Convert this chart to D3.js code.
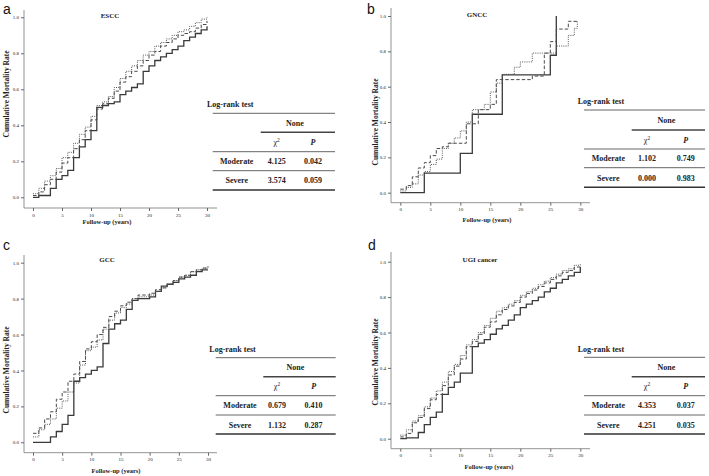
<!DOCTYPE html>
<html>
<head>
<meta charset="utf-8">
<script src="https://cdn.jsdelivr.net/npm/d3@7"></script>
<style>
	body { margin: 0; background: #fff; }
	svg { display: block; }
	text { font-family: "Liberation Serif", "Times New Roman", serif; fill: #222; }
	.letter { font-family: "Liberation Sans", Arial, sans-serif; font-size: 14px; fill: #111; }
	.tick text { font-size: 5px; }
	.tick line { stroke: #666; }
</style>
</head>
<body>
<svg id="chart" width="709" height="476"></svg>
<script>
/* global d3 */

// ---- data ----
const letters = ['a', 'b', 'c', 'd'];
const titles = ['ESCC', 'GNCC', 'GCC', 'UGI cancer'];
const xTicks = [0, 5, 10, 15, 20, 25, 30];
const yTicks = [0, 0.2, 0.4, 0.6, 0.8, 1.0];
const groups = ['None', 'Moderate', 'Severe'];
const rowNames = ['Moderate', 'Severe'];

// [follow-up year, cumulative mortality rate]
const escc_none = [[0,0],[1,0.01],[3,0.05],[4,0.10],[5,0.12],[6,0.15],[7,0.22],[8,0.28],[9,0.32],[10,0.37],[11,0.50],[12,0.51],[13,0.52],[14,0.53],[15,0.57],[16,0.59],[17,0.61],[18,0.63],[19,0.70],[20,0.73],[21,0.76],[22,0.78],[23,0.80],[24,0.82],[25,0.84],[26,0.87],[27,0.89],[28,0.91],[29,0.93],[30,0.95]];
const escc_moderate = [[0,0.01],[1,0.03],[2,0.07],[3,0.10],[4,0.14],[5,0.19],[6,0.22],[7,0.27],[8,0.32],[9,0.37],[10,0.43],[11,0.49],[12,0.52],[13,0.55],[14,0.59],[15,0.64],[16,0.67],[17,0.70],[18,0.73],[19,0.76],[20,0.79],[21,0.81],[22,0.84],[23,0.86],[24,0.88],[25,0.90],[26,0.91],[27,0.92],[28,0.94],[29,0.96],[30,0.98]];
const escc_severe = [[0,0.02],[1,0.05],[2,0.09],[3,0.12],[4,0.16],[5,0.22],[6,0.25],[7,0.30],[8,0.35],[9,0.39],[10,0.45],[11,0.51],[12,0.53],[13,0.56],[14,0.61],[15,0.66],[16,0.70],[17,0.73],[18,0.76],[19,0.79],[20,0.81],[21,0.84],[22,0.86],[23,0.88],[24,0.90],[25,0.92],[26,0.93],[27,0.95],[28,0.97],[29,0.99],[30,1.0]];

const gncc_none = [[0,0],[4,0.111],[10,0.222],[12,0.444],[17,0.667],[25,0.778],[26,1.0]];
const gncc_moderate = [[0,0.02],[1,0.04],[2,0.09],[3,0.14],[4,0.17],[5,0.21],[6,0.25],[7,0.26],[8,0.28],[11,0.39],[13,0.47],[15,0.50],[16,0.64],[22,0.66],[24,0.79],[25,0.855],[26,0.926],[28,0.97],[29.5,0.97]];
const gncc_severe = [[0,0.01],[1,0.03],[2,0.05],[3,0.10],[4,0.12],[5,0.16],[6,0.19],[7,0.25],[8,0.28],[9,0.31],[10,0.35],[11,0.40],[12,0.47],[14,0.50],[15,0.57],[16,0.62],[17,0.67],[19,0.71],[20,0.74],[22,0.79],[26,0.83],[28,0.89],[29,0.93],[29.5,0.97]];

const gcc_none = [[0,0],[3,0.03],[4,0.06],[5,0.10],[6,0.15],[7,0.34],[8,0.36],[9,0.38],[10,0.40],[11,0.42],[12,0.55],[13,0.63],[14,0.66],[15,0.68],[16,0.74],[17,0.79],[18,0.80],[20,0.81],[21,0.84],[22,0.87],[23,0.88],[24,0.89],[25,0.91],[26,0.92],[27,0.93],[28,0.95],[29,0.96],[30,0.96]];
const gcc_moderate = [[0,0.05],[1,0.08],[2,0.13],[3,0.17],[4,0.24],[5,0.28],[6,0.34],[7,0.38],[8,0.45],[9,0.52],[10,0.56],[11,0.60],[12,0.64],[13,0.70],[14,0.73],[15,0.76],[16,0.78],[17,0.80],[18,0.82],[20,0.83],[21,0.85],[22,0.86],[23,0.88],[24,0.90],[25,0.92],[26,0.93],[27,0.95],[28,0.96],[29,0.97],[30,0.98]];
const gcc_severe = [[0,0.03],[1,0.07],[2,0.10],[3,0.13],[4,0.19],[5,0.23],[6,0.28],[7,0.33],[8,0.43],[9,0.51],[10,0.53],[11,0.57],[12,0.63],[13,0.68],[14,0.72],[15,0.75],[16,0.77],[17,0.80],[18,0.81],[20,0.82],[21,0.84],[22,0.86],[23,0.88],[24,0.90],[25,0.92],[26,0.93],[27,0.95],[28,0.96],[29,0.97],[30,0.98]];

const ugi_none = [[0,0],[1,0.005],[3,0.035],[4,0.08],[5,0.12],[6,0.15],[7,0.25],[8,0.29],[9,0.32],[10,0.37],[12,0.52],[13,0.54],[14,0.56],[15,0.59],[16,0.62],[17,0.64],[18,0.67],[19,0.70],[20,0.74],[21,0.76],[22,0.78],[23,0.80],[24,0.83],[25,0.85],[26,0.88],[27,0.90],[28,0.92],[29,0.94],[30,0.97]];
const ugi_moderate = [[0,0.01],[1,0.03],[2,0.09],[3,0.12],[4,0.17],[5,0.22],[6,0.25],[7,0.30],[8,0.36],[9,0.41],[10,0.45],[11,0.52],[12,0.55],[13,0.59],[14,0.63],[15,0.66],[16,0.70],[17,0.73],[18,0.75],[19,0.77],[20,0.80],[21,0.82],[22,0.84],[23,0.86],[24,0.88],[25,0.90],[26,0.92],[27,0.94],[28,0.95],[29,0.97],[30,0.98]];
const ugi_severe = [[0,0.02],[1,0.05],[2,0.10],[3,0.13],[4,0.18],[5,0.23],[6,0.27],[7,0.32],[8,0.38],[9,0.42],[10,0.47],[11,0.53],[12,0.56],[13,0.60],[14,0.64],[15,0.68],[16,0.72],[17,0.74],[18,0.76],[19,0.78],[20,0.81],[21,0.83],[22,0.85],[23,0.87],[24,0.89],[25,0.91],[26,0.93],[27,0.95],[28,0.96],[29,0.98],[30,0.99]];

const chi2 = [['4.125', '3.574'], ['1.102', '0.000'], ['0.679', '1.132'], ['4.353', '4.251']];
const pval = [['0.042', '0.059'], ['0.749', '0.983'], ['0.410', '0.287'], ['0.037', '0.035']];

const series = [
	[escc_none, escc_moderate, escc_severe],
	[gncc_none, gncc_moderate, gncc_severe],
	[gcc_none, gcc_moderate, gcc_severe],
	[ugi_none, ugi_moderate, ugi_severe],
];

// ---- layout ----
const layout = [
	{ letter: [3, 14], title: [110, 18], x: [33, 207], y: [197.3, 17.3], ax: { l: 24, b: 208, t: 10, r: 217 },
		ylab: [9, 94], xlab: [107, 224],
		tbl: { title: [207, 107], l: 212.7, r: 335, split: 260.7, lines: [113.3, 132.3, 151.7, 170.7, 190], cols: [236.7, 276.7, 313] } },
	{ letter: [367, 14], title: [477, 17], x: [400.3, 580.3], y: [192.7, 16], ax: { l: 391, b: 202.7, t: 8, r: 590 },
		ylab: [378, 122], xlab: [487, 222],
		tbl: { title: [577.7, 104], l: 584, r: 705, split: 631.7, lines: [110, 130, 149, 167.7, 187.3], cols: [608.3, 647, 685.7] } },
	{ letter: [3, 250], title: [107, 262], x: [33, 208], y: [442.3, 262.7], ax: { l: 24, b: 452.7, t: 255, r: 217 },
		ylab: [9, 370], xlab: [116, 473],
		tbl: { title: [209.3, 352], l: 215.7, r: 335.7, split: 263.3, lines: [357.7, 376.7, 395.7, 415, 434], cols: [240, 277, 313.6] } },
	{ letter: [368, 250], title: [480, 262], x: [400.3, 580.3], y: [438.7, 261.7], ax: { l: 391, b: 448.7, t: 252, r: 590 },
		ylab: [378, 362], xlab: [489, 469],
		tbl: { title: [577.7, 352], l: 584, r: 705, split: 631.7, lines: [357.3, 376.7, 395.7, 415, 434], cols: [608.3, 647, 685.7] } },
];

const lineStyle = [
	{ stroke: '#3a3a3a', width: 1.3, dash: null },
	{ stroke: '#4a4a4a', width: 1, dash: '3.5,2' },
	{ stroke: '#555', width: 1, dash: '1,1.2' },
];

const svg = d3.select('#chart');

const drawPanel = i => {
	const L = layout[i];
	const g = svg.append('g');
	const x = d3.scaleLinear().domain([0, 30]).range(L.x);
	const y = d3.scaleLinear().domain([0, 1]).range(L.y);

	g.append('text').attr('class', 'letter').attr('x', L.letter[0]).attr('y', L.letter[1]).text(letters[i]);

	// axes lines
	g.append('line').attr('x1', L.ax.l).attr('x2', L.ax.l).attr('y1', L.ax.t).attr('y2', L.ax.b)
		.attr('stroke', '#777').attr('stroke-width', 0.8);
	g.append('line').attr('x1', L.ax.l).attr('x2', L.ax.r).attr('y1', L.ax.b).attr('y2', L.ax.b)
		.attr('stroke', '#777').attr('stroke-width', 0.8);

	const yAxis = g.append('g').attr('transform', `translate(${L.ax.l},0)`)
		.call(d3.axisLeft(y).tickValues(yTicks).tickSize(3).tickPadding(2).tickFormat(d3.format('.1f')));
	yAxis.select('.domain').remove();
	const xAxis = g.append('g').attr('transform', `translate(0,${L.ax.b})`)
		.call(d3.axisBottom(x).tickValues(xTicks).tickSize(3).tickPadding(2));
	xAxis.select('.domain').remove();

	g.append('text').attr('x', L.title[0]).attr('y', L.title[1]).attr('text-anchor', 'middle')
		.attr('font-size', 7).attr('font-weight', 'bold').text(titles[i]);
	g.append('text').attr('transform', `translate(${L.ylab[0]},${L.ylab[1]}) rotate(-90)`)
		.attr('text-anchor', 'middle').attr('font-size', 7.5).attr('font-weight', 'bold')
		.text('Cumulative Mortality Rate');
	g.append('text').attr('x', L.xlab[0]).attr('y', L.xlab[1]).attr('text-anchor', 'middle')
		.attr('font-size', 6.5).attr('font-weight', 'bold').text('Follow-up (years)');

	const line = d3.line().x(d => x(d[0])).y(d => y(d[1])).curve(d3.curveStepAfter);
	series[i].forEach((s, k) => {
		const st = lineStyle[k];
		g.append('path').datum(s).attr('d', line).attr('fill', 'none')
			.attr('stroke', st.stroke).attr('stroke-width', st.width)
			.attr('stroke-dasharray', st.dash)
			.attr('class', 'km ' + groups[k]);
	});

	// log-rank table
	const T = L.tbl;
	const t = g.append('g').attr('font-size', 8).attr('font-weight', 'bold');
	t.append('text').attr('x', T.title[0]).attr('y', T.title[1]).text('Log-rank test');
	const hl = (x1, yy, w, c) => t.append('line').attr('x1', x1).attr('x2', T.r).attr('y1', yy).attr('y2', yy)
		.attr('stroke', c).attr('stroke-width', w);
	hl(T.l, T.lines[0], 1, '#666');
	hl(T.split, T.lines[1], 1.6, '#444');
	hl(T.l, T.lines[2], 1, '#666');
	hl(T.l, T.lines[3], 1, '#666');
	hl(T.l, T.lines[4], 1.6, '#333');
	const mid = k => (T.lines[k] + T.lines[k + 1]) / 2 + 3;
	t.append('text').attr('x', (T.cols[1] + T.cols[2]) / 2).attr('y', mid(0)).attr('text-anchor', 'middle').text(groups[0]);
	t.append('text').attr('x', T.cols[1]).attr('y', mid(1)).attr('text-anchor', 'middle')
		.attr('font-weight', 'normal').html('χ<tspan dy="-3" font-size="5.5">2</tspan>');
	t.append('text').attr('x', T.cols[2]).attr('y', mid(1)).attr('text-anchor', 'middle')
		.attr('font-style', 'italic').text('P');
	rowNames.forEach((r, k) => {
		t.append('text').attr('x', T.cols[0]).attr('y', mid(2 + k)).attr('text-anchor', 'middle').text(r);
		t.append('text').attr('x', T.cols[1]).attr('y', mid(2 + k)).attr('text-anchor', 'middle').text(chi2[i][k]);
		t.append('text').attr('x', T.cols[2]).attr('y', mid(2 + k)).attr('text-anchor', 'middle').text(pval[i][k]);
	});
};

letters.forEach((_, i) => drawPanel(i));
</script>
</body>
</html>
